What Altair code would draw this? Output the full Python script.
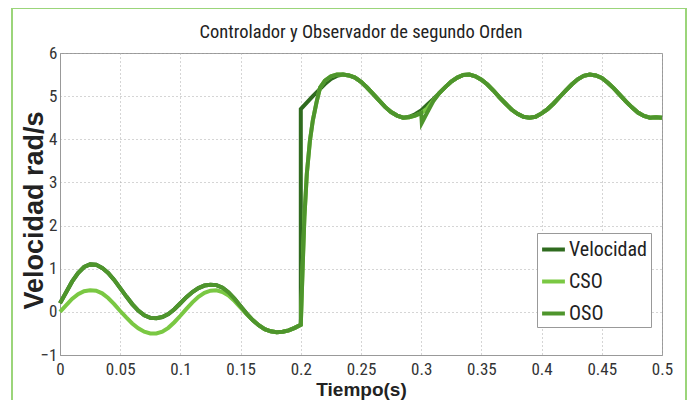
import altair as alt
import pandas as pd

NARROW = "Liberation Sans Narrow, Arial Narrow, Roboto Condensed, DejaVu Sans Condensed, sans-serif"

# ---- data ----
TITLE = ["Controlador y Observador de segundo Orden"]

T_PRE = [0.0, 0.005, 0.01, 0.015, 0.02, 0.025, 0.03, 0.035, 0.04, 0.045,
         0.05, 0.055, 0.06, 0.065, 0.07, 0.075, 0.08, 0.085, 0.09, 0.095,
         0.1, 0.105, 0.11, 0.115, 0.12, 0.125, 0.13, 0.135, 0.14, 0.145,
         0.15, 0.155, 0.16, 0.165, 0.17, 0.175, 0.18, 0.185, 0.19, 0.195, 0.2]

UPPER_PRE = [0.2, 0.45, 0.7, 0.9, 1.04, 1.1, 1.09, 1.02, 0.9, 0.74,
             0.55, 0.36, 0.18, 0.03, -0.08, -0.14, -0.15, -0.12, -0.05, 0.06,
             0.2, 0.34, 0.46, 0.55, 0.61, 0.63, 0.62, 0.56, 0.45, 0.3,
             0.13, -0.04, -0.19, -0.31, -0.4, -0.45, -0.47, -0.46, -0.43, -0.37, -0.3]

CSO_PRE = [0.0, 0.15, 0.3, 0.41, 0.48, 0.5, 0.49, 0.43, 0.32, 0.18,
           0.02, -0.13, -0.27, -0.38, -0.46, -0.5, -0.5, -0.46, -0.37, -0.24,
           -0.09, 0.07, 0.22, 0.35, 0.44, 0.49, 0.5, 0.46, 0.38, 0.25,
           0.1, -0.05, -0.19, -0.31, -0.4, -0.45, -0.47, -0.46, -0.43, -0.37, -0.3]

# Velocidad after the step
T_VEL_POST = [0.2, 0.205, 0.21, 0.215, 0.22, 0.225, 0.23, 0.235, 0.24, 0.245,
              0.25, 0.255, 0.26, 0.265, 0.27, 0.275, 0.28, 0.285, 0.29, 0.295,
              0.3, 0.305, 0.31, 0.315, 0.32, 0.325, 0.33, 0.335, 0.34, 0.345,
              0.35, 0.355, 0.36, 0.365, 0.37, 0.375, 0.38, 0.385, 0.39, 0.395,
              0.4, 0.405, 0.41, 0.415, 0.42, 0.425, 0.43, 0.435, 0.44, 0.445,
              0.45, 0.455, 0.46, 0.465, 0.47, 0.475, 0.48, 0.485, 0.49, 0.495, 0.5]
VEL_POST = [4.7, 4.85, 5.0, 5.14, 5.28, 5.4, 5.47, 5.5, 5.48, 5.43,
            5.33, 5.2, 5.05, 4.9, 4.75, 4.63, 4.55, 4.5, 4.52, 4.58,
            4.67, 4.8, 4.93, 5.07, 5.21, 5.34, 5.43, 5.49, 5.5, 5.46,
            5.38, 5.27, 5.13, 4.97, 4.83, 4.69, 4.59, 4.52, 4.5, 4.52,
            4.6, 4.7, 4.83, 4.98, 5.13, 5.27, 5.39, 5.47, 5.5, 5.48,
            5.42, 5.31, 5.18, 5.03, 4.88, 4.74, 4.62, 4.54, 4.5, 4.51, 4.5]

# Observers after the step
T_OBS_POST = [0.2, 0.2015, 0.203, 0.205, 0.2076, 0.21, 0.213, 0.216, 0.22, 0.225,
              0.23, 0.235, 0.24, 0.245, 0.25, 0.255, 0.26, 0.265, 0.27, 0.275,
              0.28, 0.285, 0.29, 0.295, 0.3, 0.3005, 0.305, 0.31, 0.315, 0.32,
              0.325, 0.33, 0.335, 0.34, 0.345, 0.35, 0.355, 0.36, 0.365, 0.37,
              0.375, 0.38, 0.385, 0.39, 0.395, 0.4, 0.405, 0.41, 0.415, 0.42,
              0.425, 0.43, 0.435, 0.44, 0.445, 0.45, 0.455, 0.46, 0.465, 0.47,
              0.475, 0.48, 0.485, 0.49, 0.495, 0.5]
OSO_POST = [-0.3, 1.0, 2.2, 3.2, 3.97, 4.44, 4.85, 5.2, 5.36, 5.46,
            5.5, 5.5, 5.48, 5.43, 5.33, 5.2, 5.05, 4.9, 4.75, 4.63,
            4.55, 4.5, 4.51, 4.55, 4.61, 4.38, 4.62, 4.88, 5.07, 5.21,
            5.34, 5.43, 5.49, 5.5, 5.46, 5.38, 5.27, 5.13, 4.97, 4.83,
            4.69, 4.59, 4.52, 4.5, 4.52, 4.6, 4.7, 4.83, 4.98, 5.13,
            5.27, 5.39, 5.47, 5.5, 5.48, 5.42, 5.31, 5.18, 5.03, 4.88,
            4.74, 4.62, 4.54, 4.5, 4.51, 4.5]
CSO_POST = [-0.3, 1.0, 2.2, 3.2, 3.97, 4.44, 4.85, 5.2, 5.36, 5.46,
            5.5, 5.5, 5.48, 5.43, 5.33, 5.2, 5.05, 4.9, 4.75, 4.63,
            4.55, 4.5, 4.51, 4.55, 4.61, 4.62, 4.72, 4.9, 5.07, 5.21,
            5.34, 5.43, 5.49, 5.5, 5.46, 5.38, 5.27, 5.13, 4.97, 4.83,
            4.69, 4.59, 4.52, 4.5, 4.52, 4.6, 4.7, 4.83, 4.98, 5.13,
            5.27, 5.39, 5.47, 5.5, 5.48, 5.42, 5.31, 5.18, 5.03, 4.88,
            4.74, 4.62, 4.54, 4.5, 4.51, 4.5]

SERIES = ["Velocidad", "CSO", "OSO"]
COLORS = ["#2f6b1f", "#7ac843", "#4e952c"]
X_TICKS = [0, 0.05, 0.1, 0.15, 0.2, 0.25, 0.3, 0.35, 0.4, 0.45, 0.5]
Y_TICKS = [-1, 0, 1, 2, 3, 4, 5, 6]


def frame(name, ts, vs):
    return pd.DataFrame({"t": ts, "v": vs, "serie": name, "i": range(len(ts))})


df = pd.concat([
    frame("Velocidad", T_PRE + T_VEL_POST, UPPER_PRE + VEL_POST),
    frame("CSO", T_PRE + T_OBS_POST, CSO_PRE + CSO_POST),
    frame("OSO", T_PRE + T_OBS_POST, UPPER_PRE + OSO_POST),
], ignore_index=True)

color = alt.Color(
    "serie:N",
    scale=alt.Scale(domain=SERIES, range=COLORS),
    legend=alt.Legend(
        title=None, orient="none", legendX=477, legendY=180,
        symbolType="stroke", symbolStrokeWidth=4, symbolSize=520,
        labelFont=NARROW, labelFontSize=20, labelColor="#222",
        labelOffset=2, rowPadding=8, padding=3,
        strokeColor="#999", fillColor="white",
    ),
)

x = alt.X("t:Q", scale=alt.Scale(domain=[0, 0.5], nice=False),
          axis=alt.Axis(values=X_TICKS, format="~g", title="Tiempo(s)",
                        labelFont=NARROW, labelFontSize=17, labelColor="#333",
                        labelPadding=6, ticks=False,
                        titleFont="Liberation Sans", titleFontSize=19,
                        titleFontWeight="bold", titleColor="#222",
                        titlePadding=3, domainColor="#999",
                        gridColor="#aaa", gridDash=[1, 3], labelFlush=False))
y = alt.Y("v:Q", scale=alt.Scale(domain=[-1, 6], nice=False),
          axis=alt.Axis(values=Y_TICKS, format="d", title="Velocidad rad/s",
                        labelFont=NARROW, labelFontSize=17, labelColor="#333",
                        labelPadding=3, ticks=False,
                        titleFont="Liberation Sans", titleFontSize=27,
                        titleFontWeight="bold", titleColor="#222",
                        titleX=-12, titleY=157, domainColor="#999",
                        gridColor="#aaa", gridDash=[1, 3]))

base = alt.Chart(df)
layers = []
for name in SERIES:
    layers.append(
        base.transform_filter(alt.datum.serie == name)
        .mark_line(strokeWidth=4)
        .encode(x=x, y=y, color=color, order="i:Q")
    )

border = alt.Chart(pd.DataFrame({"a": [0]})).mark_rect(
    fill=None, stroke="#9bd57a", strokeWidth=2
).encode(x=alt.value(-48), x2=alt.value(626), y=alt.value(-45), y2=alt.value(370))

title = alt.Chart(pd.DataFrame({"txt": TITLE})).mark_text(
    font=NARROW, fontSize=18.5, color="#222", align="center", baseline="middle"
).encode(text="txt:N", x=alt.value(301), y=alt.value(-21))

chart = alt.layer(border, *layers, title).properties(
    width=602, height=302,
    autosize=alt.AutoSizeParams(type="none"),
    padding={"left": 52, "top": 45, "right": 25, "bottom": 45},
).configure_view(stroke="#999", strokeWidth=1)

chart.save("out.html", embed_options={"renderer": "svg", "actions": False})
